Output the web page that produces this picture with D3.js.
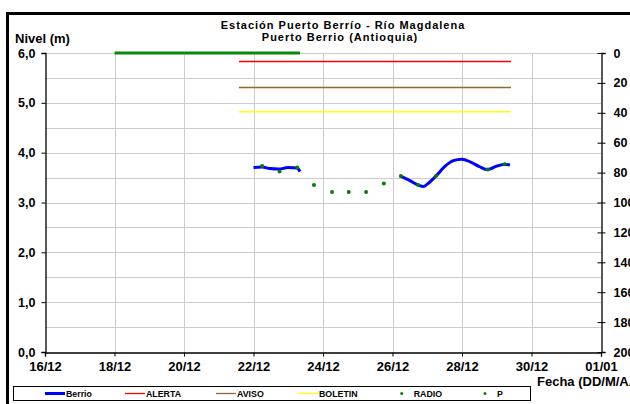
<!DOCTYPE html>
<html>
<head>
<meta charset="utf-8">
<script src="https://cdn.jsdelivr.net/npm/d3@7"></script>
<style>
  body { margin: 0; background: #fff; }
  svg { display: block; font-family: "Liberation Sans", Arial, sans-serif; font-weight: bold; }
</style>
</head>
<body>
<div class="canvas"></div>
<script>
var w = 630;
var h = 404;

// days counted from 1 Dec (32 = 01/01)
var xTicks = [16, 18, 20, 22, 24, 26, 28, 30, 32];
var xTickLabels = ["16/12", "18/12", "20/12", "22/12", "24/12", "26/12", "28/12", "30/12", "01/01"];
var yTicks = [0, 1, 2, 3, 4, 5, 6];
var yTickLabels = ["0,0", "1,0", "2,0", "3,0", "4,0", "5,0", "6,0"];
var yGrid = [0.5, 1, 1.5, 2, 2.5, 3, 3.5, 4, 4.5, 5, 5.5, 6];
var rTicks = [0, 20, 40, 60, 80, 100, 120, 140, 160, 180, 200];

var berrio1 = [[22.0, 3.70], [22.25, 3.71], [22.47, 3.68], [22.73, 3.67], [22.99, 3.70], [23.25, 3.69], [23.34, 3.62]];
var berrio2 = [[26.22, 3.53], [26.5, 3.44], [26.74, 3.35], [26.9, 3.32], [27.0, 3.37], [27.25, 3.53], [27.5, 3.72],
    [27.75, 3.84], [28.0, 3.87], [28.25, 3.81], [28.5, 3.72], [28.74, 3.66], [29.0, 3.73], [29.23, 3.77], [29.38, 3.75]];
var pPoints = [[22.25, 3.73], [22.75, 3.62], [23.26, 3.70], [23.74, 3.35], [24.26, 3.21], [24.74, 3.21], [25.24, 3.21],
    [25.75, 3.38], [26.24, 3.53], [26.74, 3.35], [27.25, 3.53], [28.74, 3.66], [29.23, 3.77]];
var radio = [[18.0, 6.0], [23.34, 6.0]];
var thresholdStart = 21.58;
var thresholdEnd = 29.41;
var thresholds = [
    { name: "ALERTA", value: 5.83, color: "#ff0000" },
    { name: "AVISO", value: 5.31, color: "#996633" },
    { name: "BOLETIN", value: 4.82, color: "#ffff00" }
];

var pLeft = 45, pRight = 601, pTop = 53, pBottom = 352;

var xScale = d3.scaleLinear().domain([16, 32]).range([pLeft, pRight]);
var yScale = d3.scaleLinear().domain([0, 6]).range([pBottom, pTop]);
var rScale = d3.scaleLinear().domain([0, 200]).range([pTop, pBottom]);

var svg = d3.select(".canvas").append("svg")
    .attr("width", w)
    .attr("height", h);

// outer frame
svg.append("rect")
    .attr("x", 7.5).attr("y", 13.5)
    .attr("width", 700).attr("height", 500)
    .attr("fill", "none").attr("stroke", "#000").attr("stroke-width", 3);

// grid
svg.append("g").selectAll("line").data(yGrid).enter().append("line")
    .attr("x1", pLeft).attr("x2", pRight)
    .attr("y1", d => Math.round(yScale(d)) + 0.5).attr("y2", d => Math.round(yScale(d)) + 0.5)
    .attr("stroke", "#cccccc").attr("stroke-width", 1);
svg.append("g").selectAll("line").data(xTicks.slice(1, -1)).enter().append("line")
    .attr("y1", pTop).attr("y2", pBottom)
    .attr("x1", d => Math.round(xScale(d)) + 0.5).attr("x2", d => Math.round(xScale(d)) + 0.5)
    .attr("stroke", "#cccccc").attr("stroke-width", 1);

// axes
var xAxis = d3.axisBottom(xScale).tickValues(xTicks).tickSize(4)
    .tickFormat((d, i) => xTickLabels[i]);
var gx = svg.append("g").attr("transform", "translate(0," + (pBottom + 0.5) + ")").call(xAxis);
gx.selectAll("text").attr("dy", 0).attr("y", 18).attr("font-size", 13);

var yAxis = d3.axisLeft(yScale).tickValues(yTicks).tickSize(4)
    .tickFormat((d, i) => yTickLabels[i]);
var gy = svg.append("g").attr("transform", "translate(" + (pLeft + 0.5) + ",0)").call(yAxis);
gy.selectAll("text").attr("x", -10).attr("font-size", 12.5);

var rAxis = d3.axisRight(rScale).tickValues(rTicks).tickSize(4).tickFormat(d3.format("d"));
var gr = svg.append("g").attr("transform", "translate(" + (pRight + 0.5) + ",0)").call(rAxis);
gr.selectAll(".tick line").attr("x1", -4);
gr.selectAll("text").attr("x", 12).attr("font-size", 12.5);

[gx, gy, gr].forEach(g => {
    g.attr("font-family", "Liberation Sans, Arial, sans-serif").attr("font-weight", "bold");
    g.select(".domain").attr("stroke", "#000").attr("stroke-width", 1.3);
    g.selectAll(".tick line").attr("stroke", "#000");
    g.selectAll("text").attr("fill", "#000");
});

// thresholds
svg.append("g").selectAll("line").data(thresholds).enter().append("line")
    .attr("x1", xScale(thresholdStart)).attr("x2", xScale(thresholdEnd))
    .attr("y1", d => yScale(d.value)).attr("y2", d => yScale(d.value))
    .attr("stroke", d => d.color).attr("stroke-width", 1.5);

// radio
var line = d3.line().x(d => xScale(d[0])).y(d => yScale(d[1]));
svg.append("path").attr("d", line(radio))
    .attr("fill", "none").attr("stroke", "#0a8a0a").attr("stroke-width", 3);

// berrio
var smooth = d3.line().x(d => xScale(d[0])).y(d => yScale(d[1])).curve(d3.curveMonotoneX);
[berrio1, berrio2].forEach(s => {
    svg.append("path").attr("d", smooth(s))
        .attr("fill", "none").attr("stroke", "#0000ff").attr("stroke-width", 3);
});

svg.append("g").selectAll("circle").data(pPoints).enter().append("circle")
    .attr("cx", d => xScale(d[0])).attr("cy", d => yScale(d[1]))
    .attr("r", 2).attr("fill", "#008000");

// titles
svg.append("text").attr("x", 343).attr("y", 29).attr("text-anchor", "middle")
    .attr("font-size", 11).attr("letter-spacing", 1).text("Estación Puerto Berrío - Río Magdalena");
svg.append("text").attr("x", 340).attr("y", 40.5).attr("text-anchor", "middle")
    .attr("font-size", 11).attr("letter-spacing", 1).text("Puerto Berrio (Antioquia)");
svg.append("text").attr("x", 15).attr("y", 43).attr("font-size", 13).text("Nivel (m)");
svg.append("text").attr("x", 537).attr("y", 386).attr("font-size", 13).text("Fecha (DD/M/AA)");

// legend
svg.append("rect").attr("x", 13.5).attr("y", 386.5).attr("width", 517).attr("height", 14)
    .attr("fill", "#fff").attr("stroke", "#000").attr("stroke-width", 1);
var legendItems = [
    { name: "Berrio", x: 45, type: "line", color: "#0000ff", sw: 3 },
    { name: "ALERTA", x: 125, type: "line", color: "#ff0000", sw: 1.3 },
    { name: "AVISO", x: 216, type: "line", color: "#996633", sw: 1.3 },
    { name: "BOLETIN", x: 298, type: "line", color: "#ffff00", sw: 1.3 },
    { name: "RADIO", x: 401.7, type: "dot", color: "#008000" },
    { name: "P", x: 485, type: "dot", color: "#008000" }
];
var lg = svg.append("g").selectAll("g").data(legendItems).enter().append("g");
lg.filter(d => d.type == "line").append("line")
    .attr("x1", d => d.x).attr("x2", d => d.x + 20).attr("y1", 393.5).attr("y2", 393.5)
    .attr("stroke", d => d.color).attr("stroke-width", d => d.sw);
lg.filter(d => d.type == "dot").append("circle")
    .attr("cx", d => d.x).attr("cy", 393.5).attr("r", 1.5).attr("fill", d => d.color);
lg.append("text")
    .attr("x", d => d.type == "line" ? d.x + 21 : d.x + 12)
    .attr("y", 396.5).attr("font-size", 8.8).text(d => d.name);
</script>
</body>
</html>
